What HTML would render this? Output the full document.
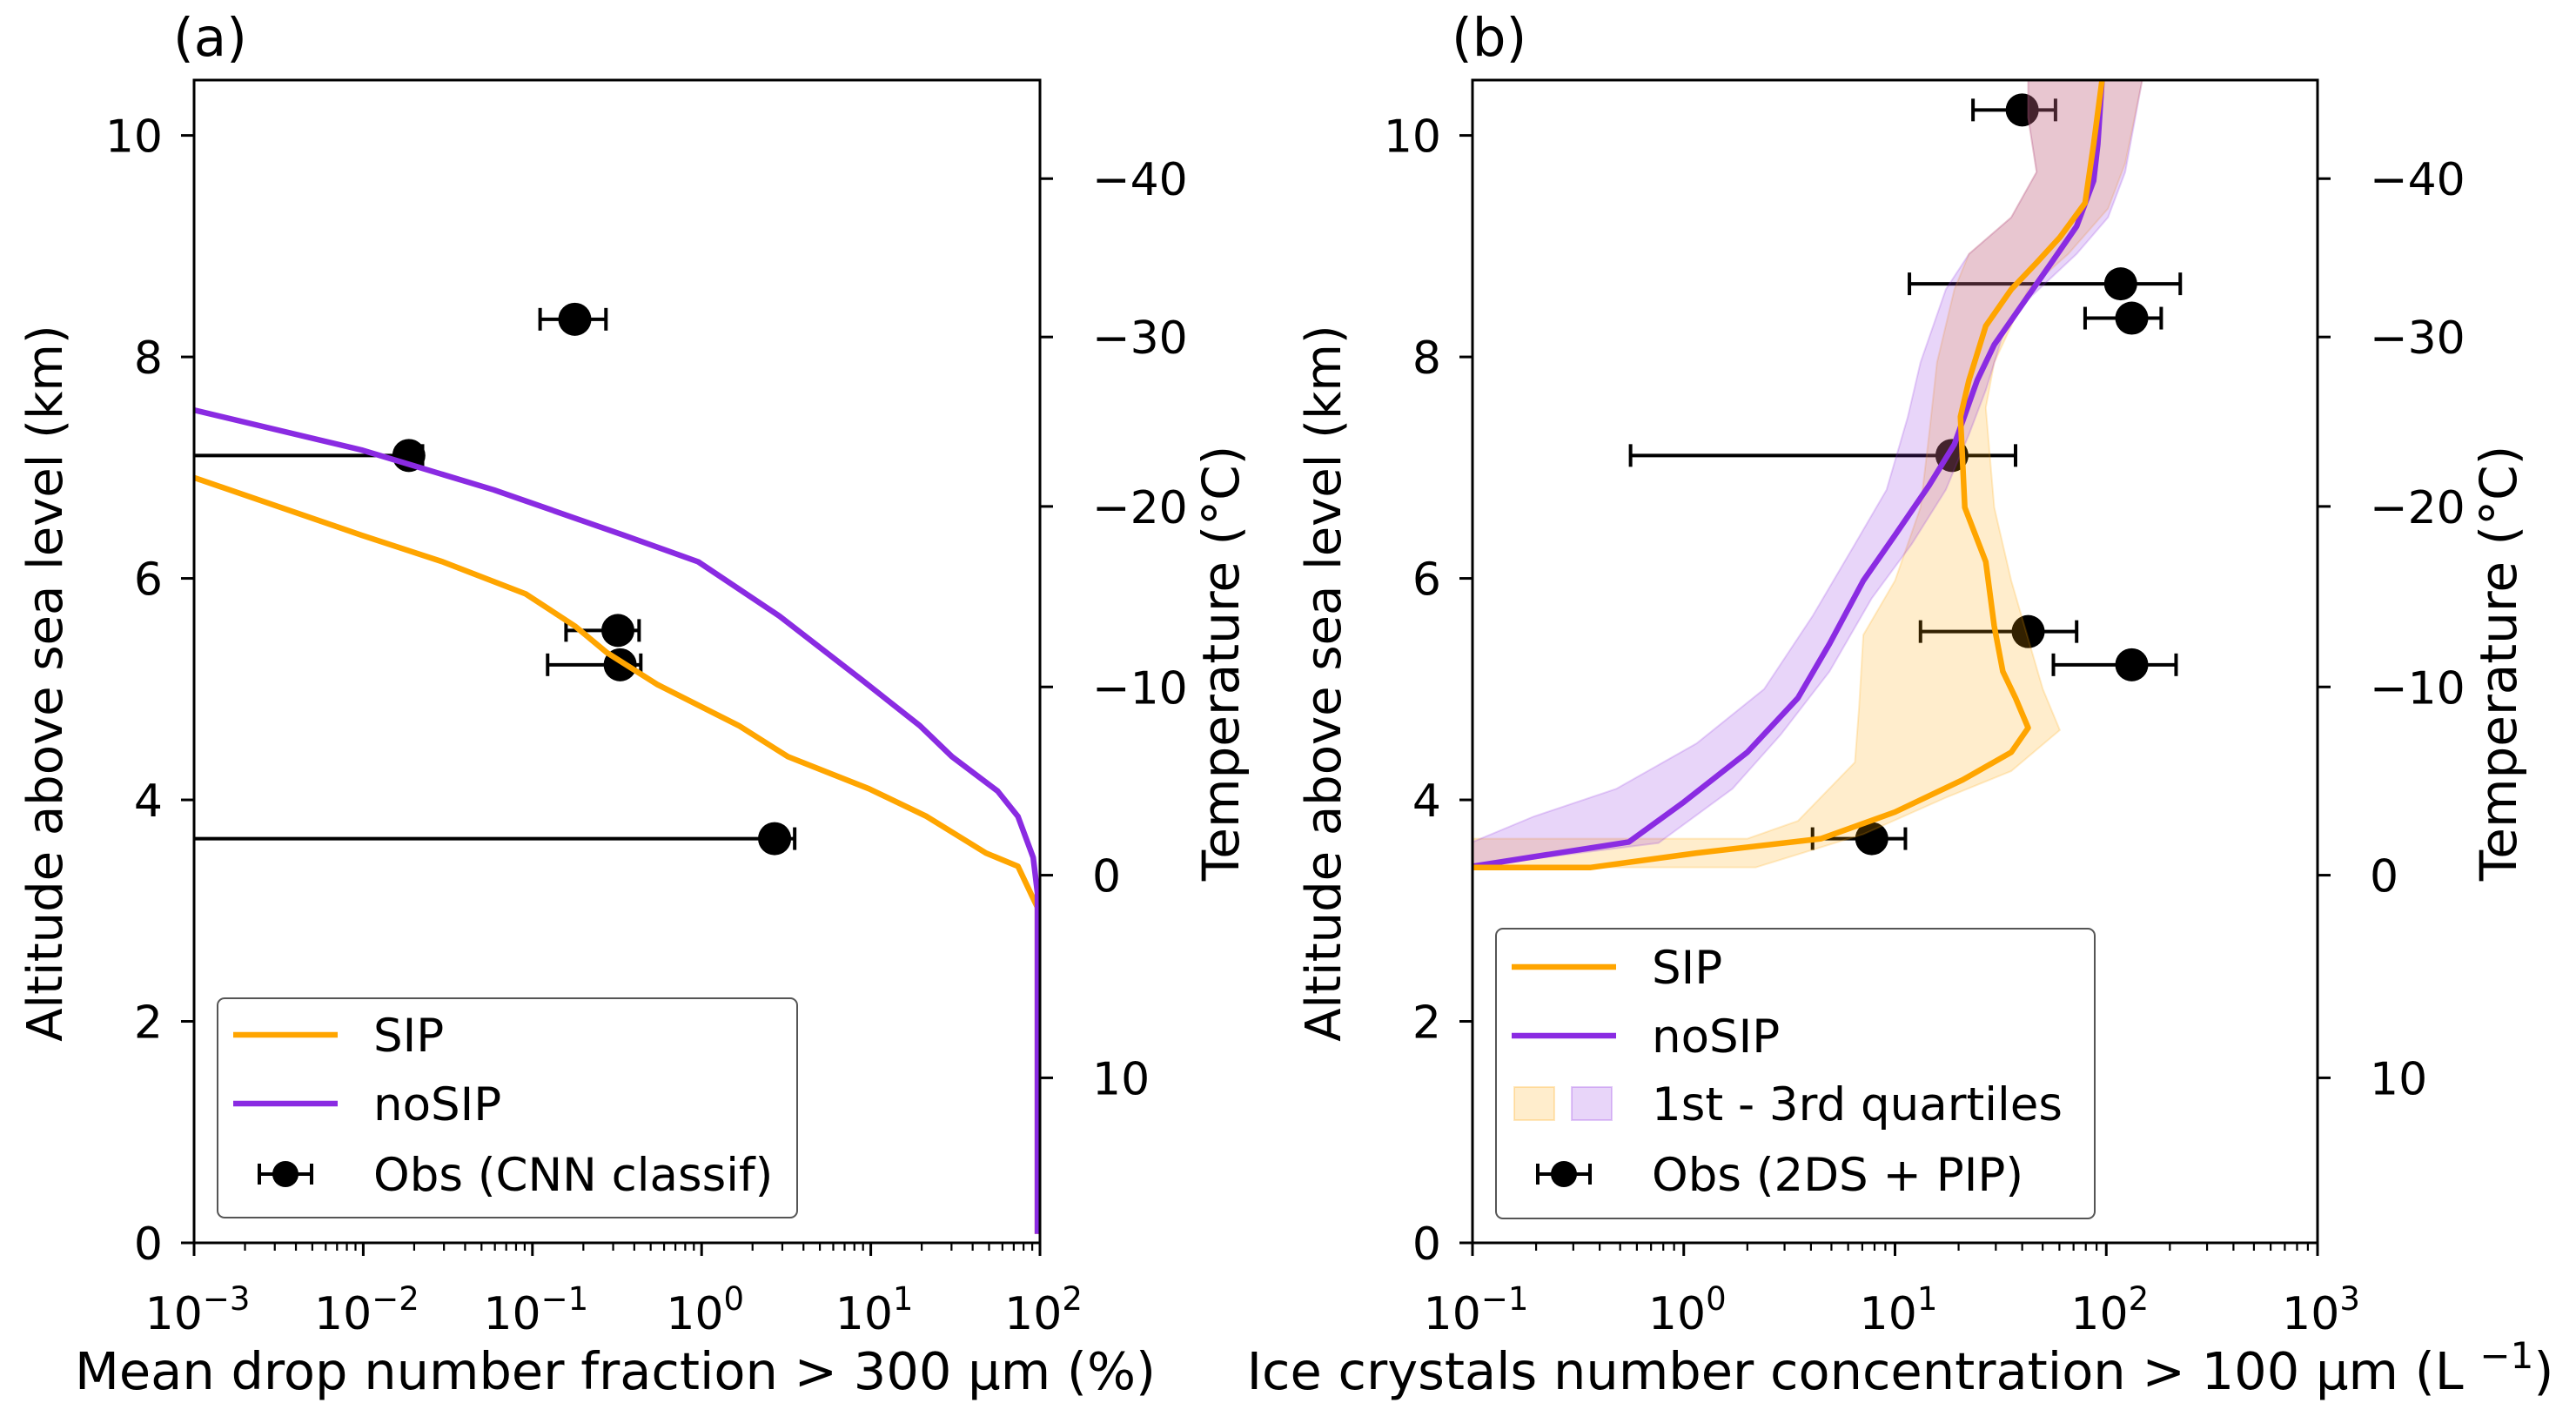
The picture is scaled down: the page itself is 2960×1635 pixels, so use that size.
<!DOCTYPE html>
<html><head><meta charset="utf-8"><style>
html,body{margin:0;padding:0;background:#fff;}
svg{display:block;font-family:"DejaVu Sans","Liberation Sans",sans-serif;}
</style></head><body>
<svg id="fig" width="2960" height="1635" viewBox="0 0 2960 1635" xmlns="http://www.w3.org/2000/svg"></svg>
<script>
// ---------- Data: panel (a) ----------
const aSipX = [0.001,0.00977,0.0295,0.0912,0.178,0.275,0.55,1.66,3.24,9.77,21.4,47.9,74.1,91.2,96.6,96.6];
const aSipY = [6.91,6.39,6.15,5.86,5.57,5.33,5.04,4.67,4.39,4.10,3.85,3.52,3.40,3.11,3.03,0.08];
const aNoX = [0.001,0.00977,0.059,0.347,0.955,2.88,8.9,19.5,30.2,56.2,74.1,91.2,96.6,96.6];
const aNoY = [7.52,7.16,6.80,6.39,6.15,5.66,5.08,4.67,4.39,4.08,3.85,3.48,3.16,0.08];
const aObsX = [0.178,0.0186,0.32,0.33,2.7];
const aObsY = [8.34,7.11,5.53,5.22,3.65];
const aObsLo = [0.111,0.0005,0.158,0.123,0.0005];
const aObsHi = [0.272,0.0224,0.427,0.437,3.55];
// ---------- Data: panel (b) ----------
const bSipX = [0.1,0.363,1.15,4.47,10,20.9,35.5,42.7,37.2,32.4,29.5,26.9,21.4,20.4,22.4,26.9,35.5,46.8,60.3,79.4,87.1,95.5];
const bSipY = [3.39,3.39,3.52,3.65,3.89,4.18,4.43,4.65,4.92,5.16,5.57,6.15,6.64,7.46,7.79,8.28,8.61,8.85,9.08,9.39,9.92,10.5];
const bNoX = [0.1,0.55,1.0,2.0,3.47,4.9,7.08,10,14.5,19.1,24.5,29.5,38.9,55,72.4,87.1,91.2,95.5];
const bNoY = [3.40,3.62,3.98,4.43,4.92,5.41,5.98,6.39,6.84,7.21,7.79,8.11,8.44,8.85,9.18,9.59,9.92,10.5];
const bNoQ1X = [0.1,0.195,0.479,1.15,2.4,4.07,6.46,9.12,11.5,13.2,17.4,22.4,35.5,46.8,42.7,42.7];
const bNoQ1Y = [3.62,3.85,4.10,4.51,5.0,5.66,6.31,6.80,7.46,7.95,8.61,8.93,9.26,9.67,10.16,10.5];
const bNoQ3X = [0.1,0.759,1.7,2.88,4.9,7.76,12,17.4,22.4,26.9,32.4,42.7,72.4,102,123,148];
const bNoQ3Y = [3.40,3.61,4.10,4.59,5.16,5.82,6.31,6.80,7.30,7.70,8.20,8.52,8.93,9.26,9.67,10.5];
const bSipQ1X = [0.1,2.0,3.47,6.46,6.76,7.08,10,13.2,14.5,15.8,19.1,22.4,35.5,46.8,42.7,42.7];
const bSipQ1Y = [3.65,3.65,3.81,4.34,4.84,5.49,5.98,6.64,7.30,7.95,8.61,8.93,9.26,9.67,10.16,10.5];
const bSipQ3X = [0.1,2.19,7.08,17.4,35.5,60.3,50.1,35.5,29.5,26.9,29.5,42.7,66.1,102,123,148];
const bSipQ3Y = [3.39,3.39,3.69,4.02,4.26,4.63,5.0,5.98,6.64,7.54,7.95,8.61,8.93,9.34,9.75,10.5];
const bObsX = [40,117,132,18.6,42.7,132,7.76];
const bObsY = [10.23,8.66,8.35,7.11,5.52,5.22,3.65];
const bObsLo = [23.4,11.7,79.4,0.56,13.2,56.2,4.07];
const bObsHi = [57.5,224,182,37.2,72.4,214,11.2];
// ---------- Axis ticks ----------
const altTicks = [0,2,4,6,8,10];
const tempTicks = ["10","0","\u221210","\u221220","\u221230","\u221240"];
const tempTickAlt = [1.49,3.32,5.02,6.65,8.18,9.61];
const aDecades = [-3,-2,-1,0,1,2];
const bDecades = [-1,0,1,2,3];

const NS="http://www.w3.org/2000/svg";
const svg=document.getElementById('fig');
function mk(tag,attrs,parent){const e=document.createElementNS(NS,tag);for(const k in attrs)e.setAttribute(k,attrs[k]);(parent||svg).appendChild(e);return e;}
const ORANGE="#ffa500", PURPLE="#8a2be2";
const TOP=92, BOT=1428, YMAX=10.5;
const LW=6.5, EW=4;
function Y(a){return BOT-(a/YMAX)*(BOT-TOP);}

function panel(p){
  const L=p.left,R=p.right;
  const X=v=>L+(Math.log10(v)-p.lmin)/(p.lmax-p.lmin)*(R-L);
  const g=mk('g',{});
  
  
  const cid='clip'+p.name;
  const cp=mk('clipPath',{id:cid},g);mk('rect',{x:L,y:TOP,width:R-L,height:BOT-TOP},cp);
  const pg=mk('g',{'clip-path':'url(#'+cid+')'},g);
  const og=mk('g',{},pg);
  
  
  for(let i=0;i<p.obsX.length;i++){
    const y=Y(p.obsY[i]),x1=X(p.obsLo[i]),x2=X(p.obsHi[i]);
    const eb=mk('line',{x1:x1,x2:x2,y1:y,y2:y,stroke:'#000','stroke-width':EW},og);
    
    
    mk('line',{x1:x1,x2:x1,y1:y-13,y2:y+13,stroke:'#000','stroke-width':EW},og);
    mk('line',{x1:x2,x2:x2,y1:y-13,y2:y+13,stroke:'#000','stroke-width':EW},og);
    const c=mk('circle',{cx:X(p.obsX[i]),cy:y,r:19,fill:'#000'},og);
    
    
  }
  if(p.bands){
    p.bands.forEach(b=>{
      let pts=[];
      for(let i=0;i<b.q1x.length;i++)pts.push(X(b.q1x[i])+','+Y(b.q1y[i]));
      for(let i=b.q3x.length-1;i>=0;i--)pts.push(X(b.q3x[i])+','+Y(b.q3y[i]));
      const poly=mk('polygon',{points:pts.join(' '),fill:b.color,'fill-opacity':0.2,stroke:b.color,'stroke-opacity':0.2,'stroke-width':2},pg);
      
      
    });
  }
  p.lines.forEach(l=>{
    const d=l.x.map((v,i)=>(i?'L':'M')+X(v).toFixed(1)+','+Y(l.y[i]).toFixed(1)).join(' ');
    const path=mk('path',{d:d,fill:'none',stroke:l.color,'stroke-width':LW,'stroke-linejoin':'round'},pg);
    
    
  });
  const fr=mk('rect',{x:L,y:TOP,width:R-L,height:BOT-TOP,fill:'none',stroke:'#000','stroke-width':3},g);
  
  
  p.decades.forEach((d,i)=>{
    const x=X(Math.pow(10,d));
    mk('line',{x1:x,x2:x,y1:BOT,y2:BOT+15,stroke:'#000','stroke-width':3},g);
    const t=mk('text',{x:x+4,y:1527,'font-size':52,'text-anchor':'middle'},g);
    
    
    t.textContent='10';
    const s=mk('tspan',{dy:-22,'font-size':37},t);
    s.textContent=d<0?'\u2212'+(-d):String(d);
    if(i<p.decades.length-1){
      for(let m=2;m<=9;m++){const xm=X(m*Math.pow(10,d));mk('line',{x1:xm,x2:xm,y1:BOT,y2:BOT+9,stroke:'#000','stroke-width':2.2},g);}
    }
  });
  altTicks.forEach(a=>{
    const y=Y(a);
    mk('line',{x1:L-15,x2:L,y1:y,y2:y,stroke:'#000','stroke-width':3},g);
    const t=mk('text',{x:L-36,y:y+19,'font-size':52,'text-anchor':'end'},g);
    
    
    t.textContent=a;
  });
  tempTicks.forEach((lab,i)=>{
    const y=Y(tempTickAlt[i]);
    mk('line',{x1:R,x2:R+15,y1:y,y2:y,stroke:'#000','stroke-width':3},g);
    const t=mk('text',{x:R+60,y:y+19,'font-size':52},g);
    
    
    t.textContent=lab;
  });
  const yl=mk('text',{x:0,y:0,'font-size':56,'text-anchor':'middle',transform:'translate('+(L-152)+',785) rotate(-90)'},g);
  
  
  yl.textContent='Altitude above sea level (km)';
  const tl=mk('text',{x:0,y:0,'font-size':58,'text-anchor':'middle',transform:'translate('+(R+228)+',762) rotate(-90)'},g);
  
  
  tl.textContent='Temperature (\u00b0C)';
  const xl=mk('text',{x:(L+R)/2+p.xlOff,y:1596,'font-size':59,'text-anchor':'middle'},g);
  
  
  xl.textContent=p.xlabel;
  if(p.xsup){const s=mk('tspan',{dy:-24,'font-size':42},xl);s.textContent=p.xsup;const s2=mk('tspan',{dy:24},xl);s2.textContent=')';}
  const pl=mk('text',{x:L-24,y:64,'font-size':61},g);
  
  
  pl.textContent=p.plabel;
}

panel({name:'a',left:223,right:1195,lmin:-3,lmax:2,decades:aDecades,
  obsX:aObsX,obsY:aObsY,obsLo:aObsLo,obsHi:aObsHi,
  lines:[{name:'sip-line',x:aSipX,y:aSipY,color:ORANGE},{name:'nosip-line',x:aNoX,y:aNoY,color:PURPLE}],
  xlabel:'Mean drop number fraction > 300 \u00b5m (%)',xlOff:-2,plabel:'(a)'});
panel({name:'b',left:1692,right:2663,lmin:-1,lmax:3,decades:bDecades,
  obsX:bObsX,obsY:bObsY,obsLo:bObsLo,obsHi:bObsHi,
  bands:[{name:'sip-quartile-band',q1x:bSipQ1X,q1y:bSipQ1Y,q3x:bSipQ3X,q3y:bSipQ3Y,color:ORANGE},
         {name:'nosip-quartile-band',q1x:bNoQ1X,q1y:bNoQ1Y,q3x:bNoQ3X,q3y:bNoQ3Y,color:PURPLE}],
  lines:[{name:'nosip-line',x:bNoX,y:bNoY,color:PURPLE},{name:'sip-line',x:bSipX,y:bSipY,color:ORANGE}],
  xlabel:'Ice crystals number concentration > 100 \u00b5m (L ',xsup:'\u22121',xlOff:6,plabel:'(b)'});

function legend(name,x0,y0,w,h,entries){
  const g=mk('g',{});
  
  
  mk('rect',{x:x0,y:y0,width:w,height:h,rx:8,fill:'#fff','fill-opacity':0.8,stroke:'#555','stroke-width':2},g);
  entries.forEach(e=>{
    const eg=mk('g',{},g);
    
    
    if(e.type==='line')mk('line',{x1:x0+18,x2:x0+138,y1:e.y,y2:e.y,stroke:e.color,'stroke-width':LW},eg);
    if(e.type==='obs'){
      const cx=x0+78;
      mk('line',{x1:cx-30,x2:cx+30,y1:e.y,y2:e.y,stroke:'#000','stroke-width':EW},eg);
      mk('line',{x1:cx-30,x2:cx-30,y1:e.y-12,y2:e.y+12,stroke:'#000','stroke-width':EW},eg);
      mk('line',{x1:cx+30,x2:cx+30,y1:e.y-12,y2:e.y+12,stroke:'#000','stroke-width':EW},eg);
      mk('circle',{cx:cx,cy:e.y,r:15,fill:'#000'},eg);
    }
    if(e.type==='patch'){
      mk('rect',{x:x0+21,y:e.y-19,width:46,height:38,fill:ORANGE,'fill-opacity':0.2,stroke:ORANGE,'stroke-opacity':0.25,'stroke-width':2},eg);
      mk('rect',{x:x0+87,y:e.y-19,width:46,height:38,fill:PURPLE,'fill-opacity':0.2,stroke:PURPLE,'stroke-opacity':0.25,'stroke-width':2},eg);
    }
    const t=mk('text',{x:x0+179,y:e.y+19,'font-size':53},eg);
    t.textContent=e.label;
  });
}
legend('legend-a',250,1147,666,252,[
  {type:'line',color:ORANGE,label:'SIP',y:1189},
  {type:'line',color:PURPLE,label:'noSIP',y:1268},
  {type:'obs',label:'Obs (CNN classif)',y:1349}]);
legend('legend-b',1719,1067,688,333,[
  {type:'line',color:ORANGE,label:'SIP',y:1111},
  {type:'line',color:PURPLE,label:'noSIP',y:1190},
  {type:'patch',label:'1st - 3rd quartiles',y:1268},
  {type:'obs',label:'Obs (2DS + PIP)',y:1349}]);
</script>
</body></html>
